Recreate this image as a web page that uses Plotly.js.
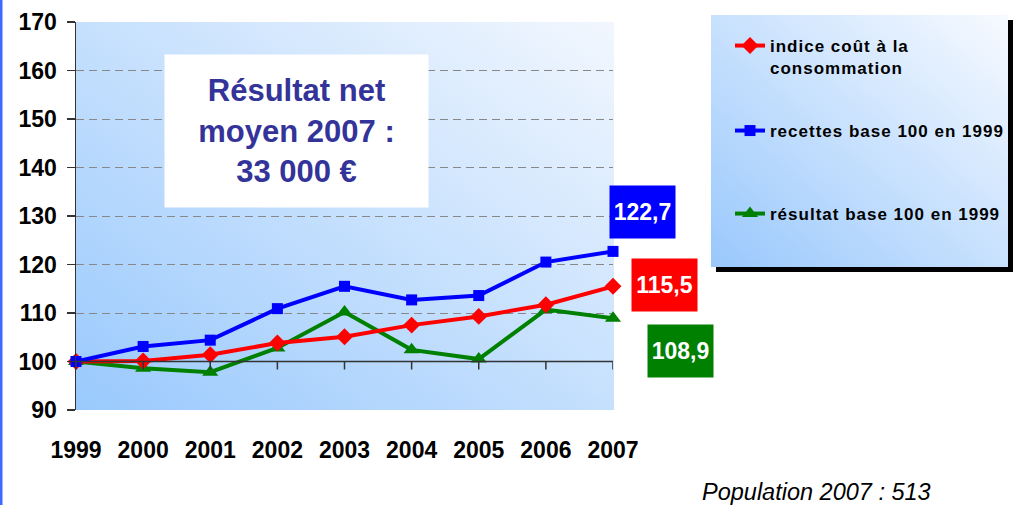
<!DOCTYPE html>
<html>
<head>
<meta charset="utf-8">
<script src="https://cdn.plot.ly/plotly-3.0.1.min.js"></script>
<style>
  html, body { margin: 0; padding: 0; background: #ffffff; }
  #chart { width: 1026px; height: 505px; }
  .infolayer [class^="legend"] text { letter-spacing: 1px !important; }
</style>
</head>
<body>
<div id="chart"></div>
<script>
// ---- data ----
const years = [1999, 2000, 2001, 2002, 2003, 2004, 2005, 2006, 2007];
const indiceConso = [100, 100.1, 101.4, 103.8, 105.1, 107.5, 109.3, 111.7, 115.5];
const recettes = [100, 103.1, 104.4, 110.9, 115.5, 112.7, 113.6, 120.5, 122.7];
const resultat = [100, 98.6, 97.8, 102.8, 110.2, 102.4, 100.5, 110.7, 108.9];
const seriesNames = ['indice coût à la<br>consommation', 'recettes base 100 en 1999', 'résultat base 100 en 1999'];
const yTicks = [90, 100, 110, 120, 130, 140, 150, 160, 170];
const boxText = 'Résultat net<br>moyen 2007 :<br>33 000 €';
const footText = 'Population 2007 : 513';

// ---- layout constants ----
const W = 1026, H = 505;
const M = {l: 76, r: 413, t: 22, b: 95};
const PW = W - M.l - M.r, PH = H - M.t - M.b;
const px = v => (v - M.l) / PW;          // pixel x -> paper x
const py = v => (H - M.b - v) / PH;      // pixel y -> paper y

const fmt = v => v.toFixed(1).replace('.', ',');
const FAM = '"Liberation Sans", Arial, sans-serif';

function gradSvg(w, h, c0, c1, shadow) {
  const sw = shadow ? w + 5 : w, sh = shadow ? h + 5 : h;
  let s = `<svg xmlns="http://www.w3.org/2000/svg" width="${sw}" height="${sh}" viewBox="0 0 ${sw} ${sh}">` +
    `<defs><linearGradient id="g" x1="0" y1="1" x2="1" y2="0">` +
    `<stop offset="0" stop-color="${c0}"/><stop offset="1" stop-color="${c1}"/></linearGradient></defs>`;
  if (shadow) s += `<rect x="5" y="5" width="${w}" height="${h}" fill="#000"/>`;
  s += `<rect x="0" y="0" width="${w}" height="${h}" fill="url(#g)"/></svg>`;
  return 'data:image/svg+xml;charset=utf-8,' + encodeURIComponent(s);
}

const colors = ['#ff0000', '#0000ff', '#008000'];
const symbols = ['diamond', 'square', 'triangle-up'];
const sizes = [13, 11, 14];
const allSeries = [indiceConso, recettes, resultat];
const legendIds = ['legend', 'legend2', 'legend3'];

const traces = allSeries.map((vals, i) => ({
  type: 'scatter', mode: 'lines+markers',
  x: years, y: vals, name: seriesNames[i], legend: legendIds[i],
  line: {color: colors[i], width: 4},
  marker: {symbol: symbols[i], size: sizes[i], color: colors[i]},
  cliponaxis: false, hoverinfo: 'x+y'
}));
// draw order: green, red, blue on top
const data = [traces[2], traces[0], traces[1]];

// x-axis line at y = 100 with tick marks
const shapes = [];
shapes.push({type: 'line', xref: 'x', yref: 'y', x0: years[0], x1: years[years.length - 1], y0: 100, y1: 100,
  line: {color: '#333333', width: 1.5}, layer: 'above'});
years.forEach(yv => shapes.push({type: 'line', xref: 'x', yref: 'y', x0: yv, x1: yv,
  ysizemode: 'pixel', yanchor: 100, y0: 0, y1: -8, line: {color: '#333333', width: 1.5}}));
// left blue frame line
shapes.push({type: 'line', xref: 'paper', yref: 'paper', x0: px(1), x1: px(1), y0: py(505), y1: py(0),
  line: {color: '#3d6bff', width: 3}});

// value labels at the last point
const lastIdx = years.length - 1;
const labelShift = [{x: 51, y: 1.5}, {x: 29.5, y: 39}, {x: 67, y: -32.5}];
const annotations = allSeries.map((vals, i) => ({
  x: years[lastIdx], y: vals[lastIdx], xref: 'x', yref: 'y',
  xshift: labelShift[i].x, yshift: labelShift[i].y,
  text: '<b>' + fmt(vals[lastIdx]) + '</b>', showarrow: false,
  font: {family: FAM, size: 23, color: '#ffffff'},
  bgcolor: colors[i], width: 65, height: 52, borderpad: 0, xanchor: 'center', yanchor: 'middle'
}));
annotations.push({
  xref: 'paper', yref: 'paper', x: px(164), y: py(54), xanchor: 'left', yanchor: 'top',
  text: '<b>' + boxText + '</b>', showarrow: false, align: 'center',
  font: {family: FAM, size: 31, color: '#333399'},
  bgcolor: '#ffffff', width: 263, height: 152, borderpad: 0
});
annotations.push({
  xref: 'paper', yref: 'paper', x: px(933), y: py(492), xanchor: 'right', yanchor: 'middle',
  text: '<i>' + footText + '</i>', showarrow: false,
  font: {family: FAM, size: 23.5, color: '#000000'}
});

const images = [
  {source: gradSvg(538, 388, '#99c9fd', '#f2f7fe', false), xref: 'paper', yref: 'paper',
   x: 0, y: 1, sizex: px(614) - 0, sizey: 1, xanchor: 'left', yanchor: 'top', sizing: 'stretch', layer: 'below'},
  {source: gradSvg(297, 252, '#99c8fc', '#f7faff', true), xref: 'paper', yref: 'paper',
   x: px(711), y: py(15), sizex: px(1013) - px(711), sizey: py(15) - py(272), xanchor: 'left', yanchor: 'top',
   sizing: 'stretch', layer: 'below'}
];

const tickFont = {family: FAM, size: 23, color: '#000000', weight: 'bold'};
const legFont = {family: FAM, size: 17, color: '#000000', weight: 'bold'};
const legTops = [28, 113, 196];
function legendAt(top) {
  return {x: px(730), y: py(top), xanchor: 'left', yanchor: 'top', bgcolor: 'rgba(0,0,0,0)',
          borderwidth: 0, valign: 'top', font: legFont};
}

const layout = {
  width: W, height: H,
  margin: M,
  paper_bgcolor: '#ffffff', plot_bgcolor: 'rgba(0,0,0,0)',
  showlegend: true,
  legend: legendAt(legTops[0]),
  legend2: legendAt(legTops[1]),
  legend3: legendAt(legTops[2]),
  xaxis: {
    range: [years[0], years[lastIdx]], tickvals: years, ticktext: years.map(String),
    showline: false, ticks: '', showgrid: false, zeroline: false,
    tickfont: tickFont, ticklabelstandoff: 24, fixedrange: true
  },
  yaxis: {
    range: [yTicks[0], yTicks[yTicks.length - 1]], tickvals: yTicks,
    showline: true, linecolor: '#333333', linewidth: 1.5,
    ticks: 'outside', ticklen: 8, tickcolor: '#333333', tickwidth: 1.5,
    showgrid: true, gridcolor: '#888888', griddash: '8px,5px', gridwidth: 1,
    zeroline: false, tickfont: tickFont, ticklabelstandoff: 5, fixedrange: true
  },
  shapes: shapes,
  annotations: annotations,
  images: images
};

Plotly.newPlot('chart', data, layout, {displayModeBar: false, staticPlot: true}).then(gd => {
  gd.querySelectorAll('.infolayer [clip-path]').forEach(el => el.removeAttribute('clip-path'));
});
</script>
</body>
</html>
